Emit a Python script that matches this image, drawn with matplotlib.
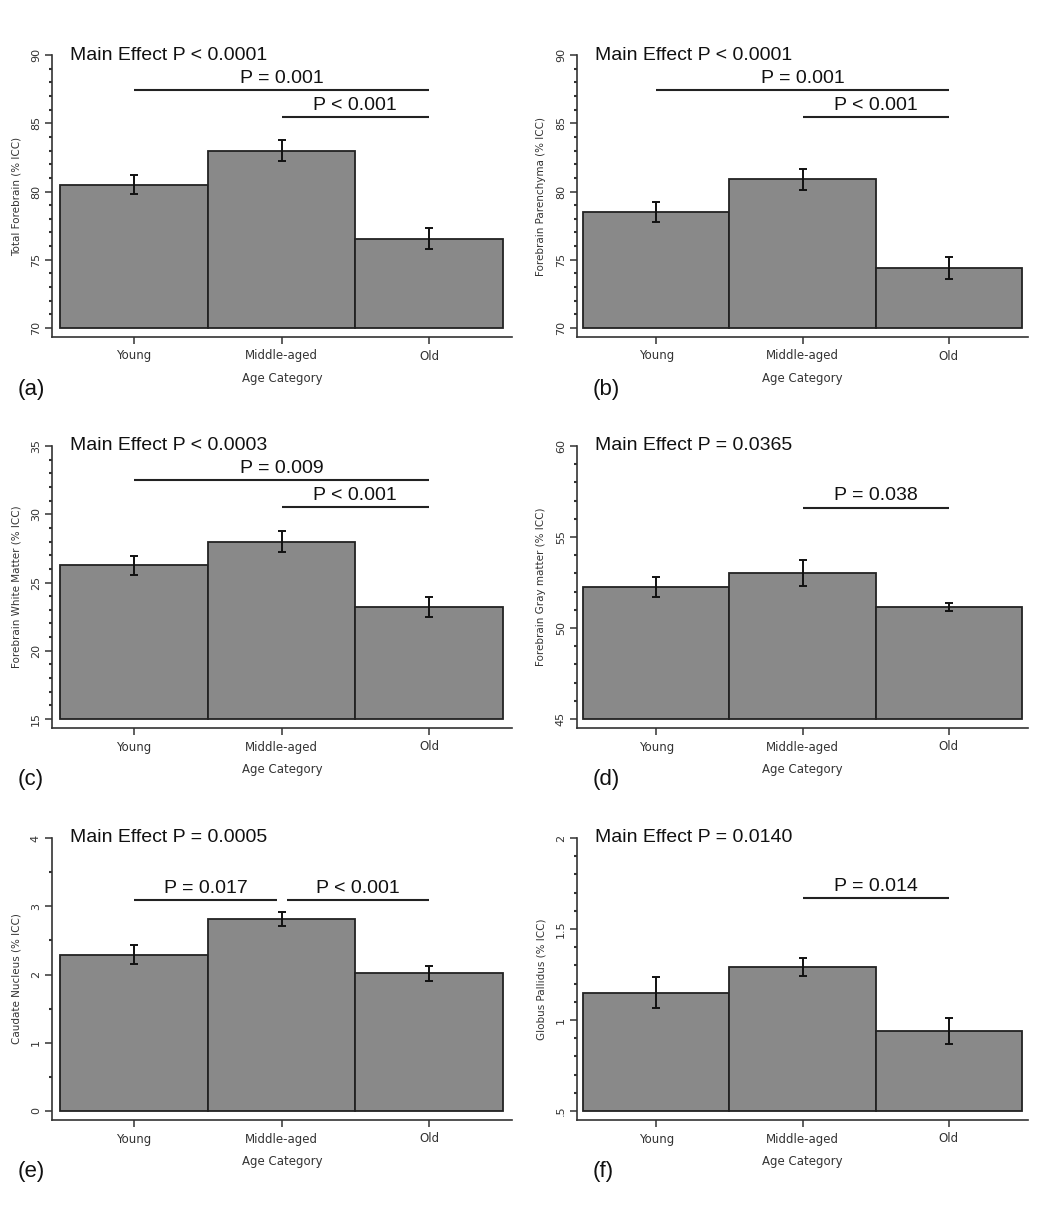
import matplotlib
matplotlib.use('Agg')
from matplotlib import pyplot as plt
from matplotlib.ticker import MultipleLocator

groups = ['Young', 'Middle-aged', 'Old']

total_forebrain = [80.5, 83.0, 76.55]
total_forebrain_se = [0.70, 0.77, 0.76]
parenchyma = [78.5, 80.9, 74.4]
parenchyma_se = [0.72, 0.78, 0.78]
white_matter = [26.25, 28.0, 23.2]
white_matter_se = [0.67, 0.80, 0.73]
gray_matter = [52.25, 53.0, 51.15]
gray_matter_se = [0.53, 0.71, 0.24]
caudate = [2.29, 2.81, 2.02]
caudate_se = [0.135, 0.105, 0.11]
pallidus = [1.15, 1.29, 0.94]
pallidus_se = [0.086, 0.05, 0.07]

ylabels = ['Total Forebrain (% ICC)', 'Forebrain Parenchyma (% ICC)',
           'Forebrain White Matter (% ICC)', 'Forebrain Gray matter (% ICC)',
           'Caudate Nucleus (% ICC)', 'Globus Pallidus (% ICC)']
main_effects = ['Main Effect P < 0.0001', 'Main Effect P < 0.0001',
                'Main Effect P < 0.0003', 'Main Effect P = 0.0365',
                'Main Effect P = 0.0005', 'Main Effect P = 0.0140']
panel_letters = ['(a)', '(b)', '(c)', '(d)', '(e)', '(f)']

# y axis: (min, max, major step, minor step, tick labels)
yaxes = [(70, 90, 5, 1, ['70', '75', '80', '85', '90']),
         (70, 90, 5, 1, ['70', '75', '80', '85', '90']),
         (15, 35, 5, 1, ['15', '20', '25', '30', '35']),
         (45, 60, 5, 1, ['45', '50', '55', '60']),
         (0, 4, 1, 0.5, ['0', '1', '2', '3', '4']),
         (0.5, 2, 0.5, 0.1, ['.5', '1', '1.5', '2'])]

# comparison bars: (from group, to group, height, label)
brackets = [[(1, 3, 87.4, 'P = 0.001'), (2, 3, 85.45, 'P < 0.001')],
            [(1, 3, 87.4, 'P = 0.001'), (2, 3, 85.45, 'P < 0.001')],
            [(1, 3, 32.5, 'P = 0.009'), (2, 3, 30.5, 'P < 0.001')],
            [(2, 3, 56.6, 'P = 0.038')],
            [(1, 1.97, 3.09, 'P = 0.017'), (2.04, 3, 3.09, 'P < 0.001')],
            [(2, 3, 1.668, 'P = 0.014')]]

means = [total_forebrain, parenchyma, white_matter, gray_matter, caudate, pallidus]
errs = [total_forebrain_se, parenchyma_se, white_matter_se, gray_matter_se,
        caudate_se, pallidus_se]

W, H = 1050, 1225
fig = plt.figure(figsize=(W / 100, H / 100), dpi=100)

col_left = [52, 577]
col_width = [460, 451]
col_pad = [(8, 9), (6, 6)]
row_top = [55, 446, 838]
ax_h = 282
gap = 9

big = ['Liberation Sans', 'DejaVu Sans']
small = ['DejaVu Sans']
dark = '#333333'

x = [1, 2, 3]
for i in range(6):
    r, c = divmod(i, 2)
    left = col_left[c]
    top = row_top[r]
    ax = fig.add_axes([left / W, 1 - (top + ax_h) / H, col_width[c] / W, ax_h / H])
    ymin, ymax, major, minor, ticklabels = yaxes[i]
    base = ymin
    ax.bar(x, [m - base for m in means[i]], bottom=base, width=1.0,
           color='#898989', edgecolor='#222222', linewidth=1.3, zorder=2)
    ax.errorbar(x, means[i], yerr=errs[i], fmt='none', ecolor='#111111',
                elinewidth=1.4, capsize=3, capthick=1.4, zorder=3)

    px_per_unit = (col_width[c] - sum(col_pad[c])) / 3
    ax.set_xlim(0.5 - col_pad[c][0] / px_per_unit, 3.5 + col_pad[c][1] / px_per_unit)
    ax.set_ylim(ymin - gap / (ax_h - gap) * (ymax - ymin), ymax)

    for sp in ['top', 'right']:
        ax.spines[sp].set_visible(False)
    for sp in ['left', 'bottom']:
        ax.spines[sp].set_color(dark)
        ax.spines[sp].set_linewidth(1.2)

    ax.set_yticks([ymin + k * major for k in range(len(ticklabels))])
    ax.set_yticklabels(ticklabels, rotation=90, va='center', family=small)
    ax.yaxis.set_minor_locator(MultipleLocator(minor))
    ax.tick_params(axis='y', which='major', length=5, width=1.1, color=dark,
                   labelsize=8, labelcolor=dark, pad=3)
    ax.tick_params(axis='y', which='minor', length=2, width=1.5, color=dark)
    ax.set_xticks(x)
    ax.set_xticklabels(groups, family=small)
    ax.tick_params(axis='x', length=5, width=1.1, color=dark, labelsize=8.5,
                   labelcolor=dark, pad=4)
    ax.set_xlabel('Age Category', fontsize=8.5, color=dark, family=small, labelpad=7)
    ax.set_ylabel(ylabels[i], fontsize=7.5, color=dark, family=small, labelpad=7)

    ax.text(18 / col_width[c], ymax, main_effects[i], transform=ax.get_yaxis_transform(),
            fontsize=14, family=big, va='center', ha='left', color='#111111')
    for x0, x1, yb, label in brackets[i]:
        ax.plot([x0, x1], [yb, yb], color='#222222', lw=1.5, solid_capstyle='butt')
        ax.annotate(label, xy=((x0 + x1) / 2, yb), xytext=(0, 2.5),
                    textcoords='offset points', ha='center', va='bottom',
                    fontsize=14, family=big, color='#111111')

    fig.text((18 if c == 0 else 593) / W, 1 - (top + 334) / H, panel_letters[i],
             fontsize=16, family=big, va='center', ha='left', color='#111111')

fig.savefig('out.png', dpi=100, facecolor='white')
